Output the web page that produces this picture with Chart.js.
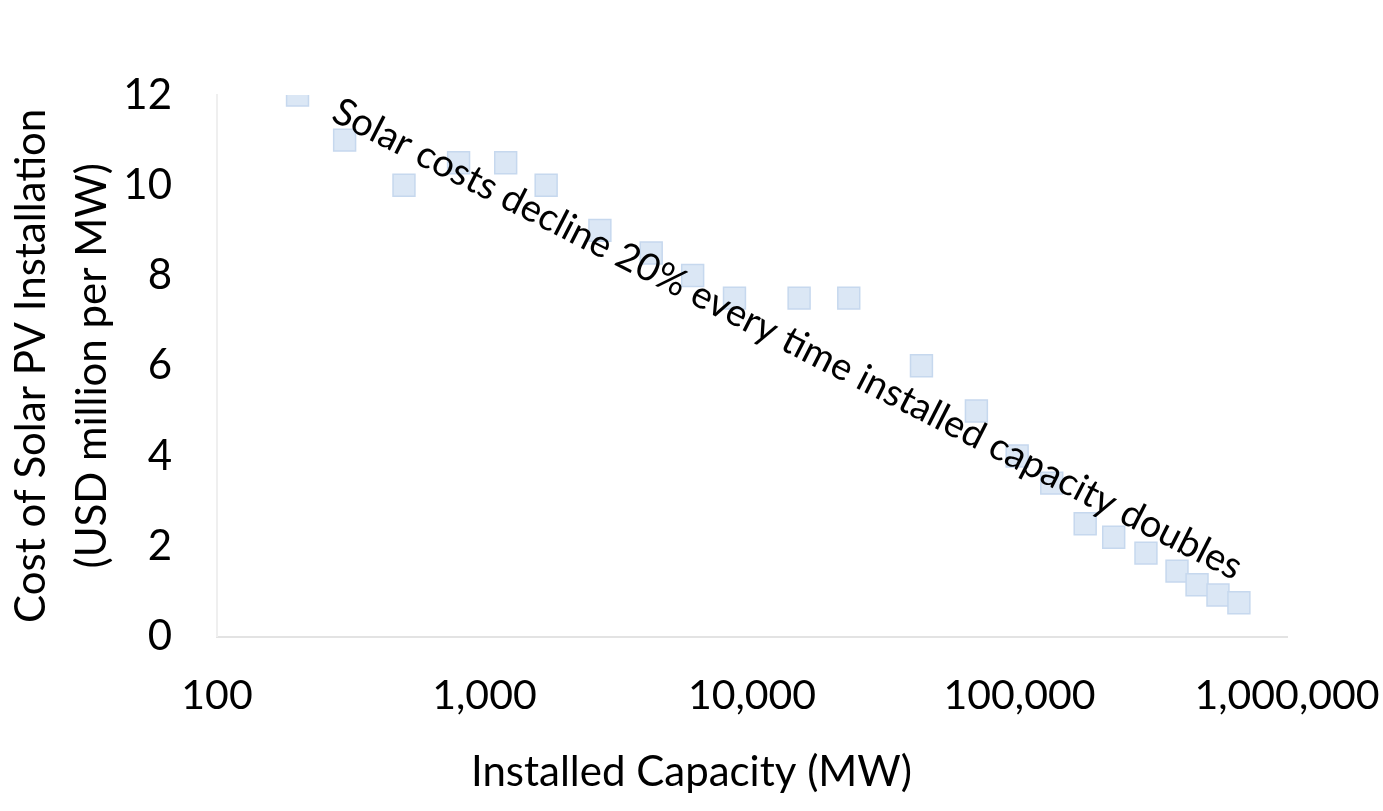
<!DOCTYPE html>
<html>
<head>
<meta charset="utf-8">
<script src="https://cdn.jsdelivr.net/npm/chart.js@4/dist/chart.umd.min.js"></script>
<style>
  html, body { margin: 0; padding: 0; background: #fff; }
  #wrap { width: 1383px; height: 811px; }
</style>
</head>
<body>
<div id="wrap"><canvas id="c"></canvas></div>
<script>
// Installed capacity (MW) vs cost (USD million per MW)
const capacity = [200, 300, 500, 800, 1200, 1700, 2700, 4200, 6000, 8600, 15000, 23000,
  43000, 69000, 98000, 132000, 176000, 225000, 297000, 388000, 461000, 552000, 661000];
const cost = [12, 11, 10, 10.5, 10.5, 10, 9, 8.5, 8, 7.5, 7.5, 7.5,
  6, 5, 4, 3.4, 2.5, 2.2, 1.85, 1.45, 1.15, 0.92, 0.75];
const xTicks = [100, 1000, 10000, 100000, 1000000];
const note = 'Solar costs decline 20% every time installed capacity doubles';

const FONT = 'Lato, "Open Sans", sans-serif';
const INK = '#000';

// rotated annotation along the trend
const notePlugin = {
  id: 'note',
  afterDatasetsDraw(chart) {
    const { ctx, scales: { x, y } } = chart;
    ctx.save();
    ctx.translate(x.getPixelForValue(264), y.getPixelForValue(11.45));
    ctx.rotate(27 * Math.PI / 180);
    ctx.font = `38px ${FONT}`;
    ctx.fillStyle = INK;
    ctx.textAlign = 'left';
    ctx.textBaseline = 'alphabetic';
    ctx.fillText(note, 0, 0);
    ctx.restore();
  },
};

new Chart(document.getElementById('c'), {
  type: 'scatter',
  data: {
    datasets: [{
      data: capacity.map((v, i) => ({ x: v, y: cost[i] })),
      pointStyle: 'rect',
      pointRadius: 15.5,
      pointHoverRadius: 15.5,
      backgroundColor: '#dbe7f5',
      borderColor: '#c6d8ee',
      borderWidth: 1.5,
    }],
  },
  options: {
    responsive: true,
    maintainAspectRatio: false,
    animation: false,
    layout: { padding: { top: 95, right: 0, left: 0, bottom: 0 } },
    plugins: {
      legend: { display: false },
      tooltip: { enabled: false },
      title: {
        display: true, position: 'bottom', text: 'Installed Capacity (MW)', color: INK,
        font: { family: FONT, size: 42, weight: 'normal', lineHeight: 1.2 },
        padding: { top: 0, bottom: 13 },
      },
    },
    scales: {
      x: {
        type: 'logarithmic', min: 100, max: 1000000,
        afterBuildTicks: s => { s.ticks = xTicks.map(v => ({ value: v })); },
        afterFit: s => { s.height = 111; s.paddingLeft = 0; s.paddingRight = 96; },
        ticks: {
          color: INK, padding: 35, maxRotation: 0, autoSkip: false,
          font: { family: FONT, size: 41 },
          callback: v => Number(v).toLocaleString('en-US'),
        },
        grid: { display: false, drawTicks: false },
        border: { display: true, color: '#e3e3e3', width: 2 },
      },
      y: {
        min: 0, max: 12,
        afterFit: s => { s.width = 217; s.paddingTop = 0; s.paddingBottom = 0; },
        ticks: { stepSize: 2, color: INK, padding: 45, font: { family: FONT, size: 42 } },
        grid: { display: false, drawTicks: false },
        border: { display: true, color: '#efefef', width: 2 },
        title: {
          display: true, color: INK,
          text: ['Cost of Solar PV Installation', '(USD million per MW)'],
          font: { family: FONT, size: 42, lineHeight: 1.45 },
          padding: { top: 1, bottom: 0 },
        },
      },
    },
  },
  plugins: [notePlugin],
});
</script>
</body>
</html>
